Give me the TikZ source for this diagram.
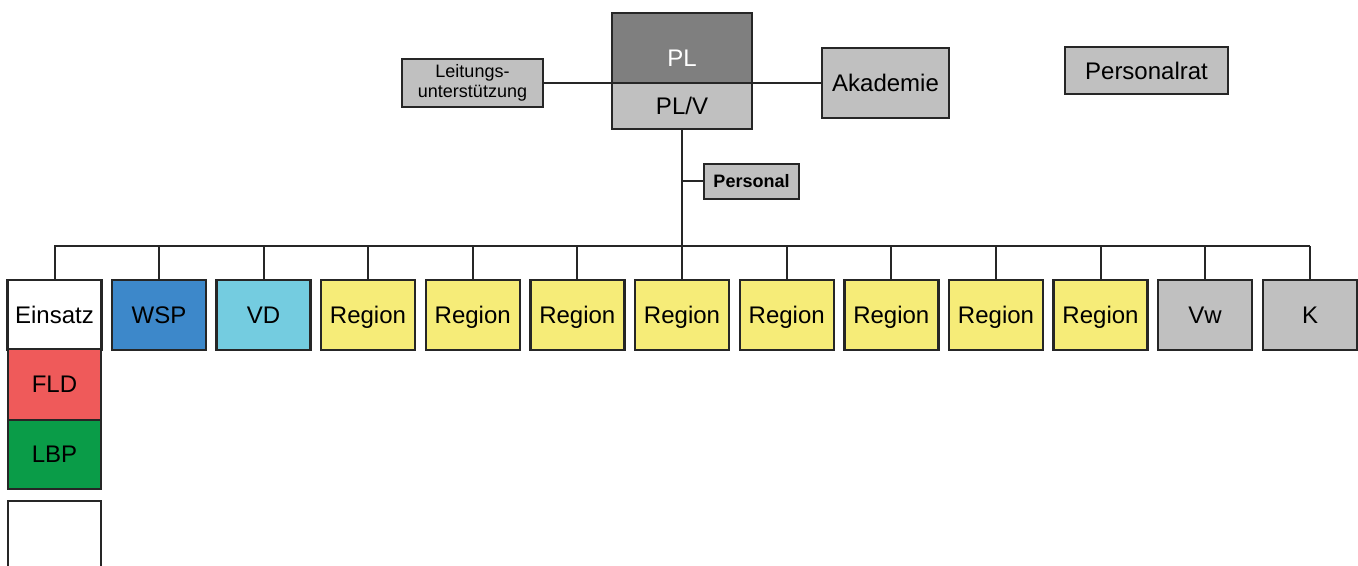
\documentclass[tikz,border=0pt]{standalone}
\usepackage{fontspec}
\setmainfont{Liberation Sans}
\definecolor{cpl}{HTML}{7F7F7F}
\definecolor{cgray}{HTML}{C0C0C0}
\definecolor{cwsp}{HTML}{3D88CA}
\definecolor{cvd}{HTML}{74CCE0}
\definecolor{creg}{HTML}{F6EC78}
\definecolor{cfld}{HTML}{EF5A5A}
\definecolor{clbp}{HTML}{0A9C48}
\begin{document}
\begin{tikzpicture}[x=0.5pt,y=-0.5pt,
  box/.style={draw=black!85,line width=1.2pt,inner sep=0pt,font=\fontsize{12}{14}\selectfont},
  rowbox/.style={box,minimum width=47pt,minimum height=35pt,text depth=-1pt},
  colbox/.style={box,minimum width=46.5pt},
  conn/.style={line width=1pt,draw=black!85}]
\useasboundingbox (0,0) rectangle (1358,566);
\clip (0,0) rectangle (1358,566);
% top
\node[box,fill=cpl,minimum width=70pt,minimum height=35pt] (pl) at (682,48) {};
\node[font=\fontsize{12}{14}\selectfont,text=white] (pltxt) at (682,58) {PL};
\node[box,fill=cgray,minimum width=70pt,minimum height=23pt] (plv) at (682,106) {PL/V};
\node[box,fill=cgray,minimum width=70.5pt,minimum height=24pt,align=center,font=\fontsize{9}{10}\selectfont] (leit) at (472.5,83) {Leitungs-\\unterstützung};
\node[box,fill=cgray,minimum width=63.5pt,minimum height=35pt] (akad) at (885.5,83) {Akademie};
\node[box,fill=cgray,minimum width=81.5pt,minimum height=23.5pt] (prat) at (1146.5,70.5) {Personalrat};
\node[box,fill=cgray,minimum width=47.5pt,minimum height=17.5pt,font=\fontsize{9}{10}\selectfont\bfseries] (pers) at (751.5,181.5) {Personal};
\draw[conn] (leit.east) -- (leit.east -| pl.west);
\draw[conn] (akad.west) -- (akad.west -| pl.east);
\coordinate (busL) at (54,246);
\coordinate (busR) at (1310,246);
\draw[conn] (plv.south) -- (plv.south |- busL);
\draw[conn] (pers.west) -- (pers.west -| plv.south);
\draw[conn] (busL) -- (busR);
% row
\node[rowbox,fill=white] (einsatz) at (54.5,315) {Einsatz};
\node[rowbox,fill=cwsp] (wsp) at (159,315) {WSP};
\node[rowbox,fill=cvd] (vd) at (263.5,315) {VD};
\node[rowbox,fill=creg] (r1) at (368,315) {Region};
\node[rowbox,fill=creg] (r2) at (472.7,315) {Region};
\node[rowbox,fill=creg] (r3) at (577.3,315) {Region};
\node[rowbox,fill=creg] (r4) at (682,315) {Region};
\node[rowbox,fill=creg] (r5) at (786.7,315) {Region};
\node[rowbox,fill=creg] (r6) at (891.3,315) {Region};
\node[rowbox,fill=creg] (r7) at (996,315) {Region};
\node[rowbox,fill=creg] (r8) at (1100.5,315) {Region};
\node[rowbox,fill=cgray] (vw) at (1205,315) {Vw};
\node[rowbox,fill=cgray] (k) at (1310,315) {K};
\foreach \n in {einsatz,wsp,vd,r1,r2,r3,r4,r5,r6,r7,r8,vw,k}
  \draw[conn] (\n.north) -- (\n.north |- busL);
% column
\node[colbox,fill=cfld,minimum height=35.5pt] (fld) at (54.5,384.5) {FLD};
\node[colbox,fill=clbp,minimum height=34.5pt] (lbp) at (54.5,454.5) {LBP};
\node[colbox,fill=white,minimum height=37pt] (empty) at (54.5,538) {};
\end{tikzpicture}
\end{document}
